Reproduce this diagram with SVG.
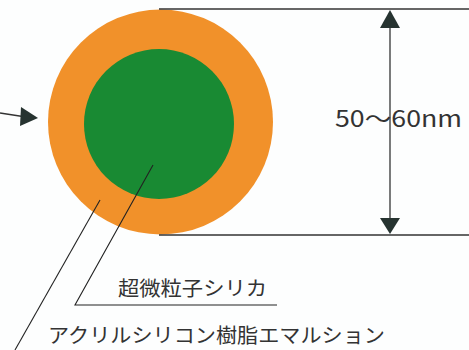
<svg xmlns="http://www.w3.org/2000/svg" width="469" height="350" viewBox="0 0 469 350">
<defs>
<style>
.ln{stroke:#333;stroke-width:1.3;fill:none}
.lead{stroke:#222;stroke-width:1.1;fill:none}
.ah{fill:#263330}
.t{font-family:"Noto Sans CJK JP","Noto Sans",sans-serif;fill:#333;font-weight:400}
</style>
</defs>
<rect width="469" height="350" fill="#fdfefe"/>
<g id="particle">
<circle cx="160.5" cy="122" r="112.5" fill="#F1912A"/>
<circle cx="159" cy="124" r="75" fill="#198A33"/>
</g>
<g id="connectors">
<line class="ln" x1="159" y1="9" x2="469" y2="9"/>
<line class="ln" x1="159" y1="235" x2="469" y2="235"/>
<line class="ln" x1="390" y1="20" x2="390" y2="224"/>
<polygon class="ah" points="390,10 380,28 400,28"/>
<polygon class="ah" points="390,234 380,218 400,218"/>
<line class="ln" x1="0" y1="113" x2="26" y2="117"/>
<polygon class="ah" points="38,118 21,107 20,126"/>
<polyline class="lead" points="153,165 75,305 277,305"/>
<line class="lead" x1="100" y1="200" x2="15" y2="350"/>
</g>
<g id="dimension-label">
<text class="t" x="335" y="127" font-size="23" textLength="127" lengthAdjust="spacingAndGlyphs">50～60nm</text>
</g>
<g id="label-silica">
<text class="t" x="118" y="296" font-size="20" textLength="149" lengthAdjust="spacingAndGlyphs">超微粒子シリカ</text>
</g>
<g id="label-emulsion">
<text class="t" x="48" y="343" font-size="20" textLength="337" lengthAdjust="spacingAndGlyphs">アクリルシリコン樹脂エマルション</text>
</g>
</svg>
